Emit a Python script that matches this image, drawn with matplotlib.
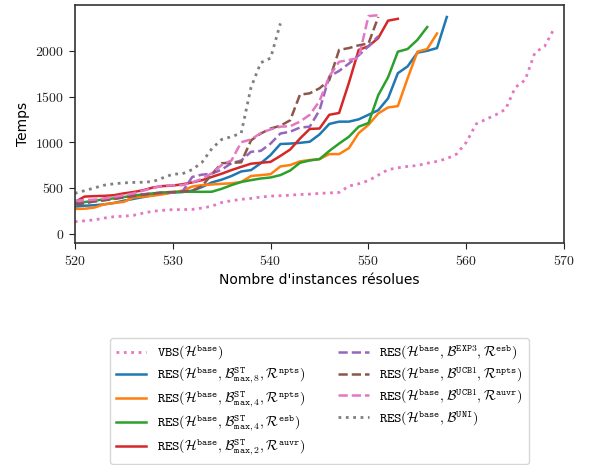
import matplotlib
matplotlib.use("Agg")
import matplotlib.pyplot as plt
from matplotlib.ticker import FuncFormatter

plt.rcParams['mathtext.fontset'] = 'cm'

# ---- data ----
vbs_x0 = 520
vbs = [130, 140, 150, 170, 185, 190, 200, 225, 245, 255, 262, 263, 265, 280, 300,
       340, 360, 375, 385, 400, 410, 415, 420, 428, 432, 440, 445, 450, 520, 545,
       580, 640, 700, 720, 735, 745, 770, 790, 820, 870, 1000, 1200, 1250, 1300,
       1360, 1600, 1680, 1980, 2050, 2250]
blue = [295, 305, 310, 320, 335, 360, 380, 400, 420, 440, 450, 455, 470, 510, 560,
        590, 630, 680, 695, 770, 860, 980, 985, 993, 1005, 1085, 1200, 1225, 1225,
        1250, 1300, 1350, 1480, 1755, 1830, 1980, 2000, 2030, 2370]
orange = [270, 272, 285, 320, 335, 347, 395, 405, 415, 430, 450, 470, 515, 530, 537,
          545, 550, 565, 630, 640, 650, 735, 750, 790, 805, 815, 870, 870, 935, 1100,
          1190, 1315, 1380, 1395, 1700, 1990, 2020, 2190]
green = [330, 345, 360, 375, 385, 400, 415, 430, 440, 450, 455, 457, 458, 457, 458,
         490, 530, 565, 585, 603, 614, 640, 690, 775, 800, 815, 905, 985, 1060, 1170,
         1210, 1515, 1710, 1990, 2020, 2120, 2260]
red = [345, 405, 410, 413, 420, 440, 455, 475, 505, 520, 525, 540, 560, 585, 620,
       655, 695, 730, 765, 775, 785, 850, 920, 1040, 1145, 1150, 1300, 1320, 1650,
       2010, 2050, 2140, 2330, 2350]
purple = [325, 340, 350, 365, 380, 400, 420, 430, 440, 445, 450, 460, 620, 645, 655,
          700, 770, 800, 895, 905, 985, 1095, 1115, 1160, 1170, 1350, 1720, 1780,
          1860, 1950, 2050, 2160]
brown = [320, 330, 355, 365, 380, 395, 410, 425, 440, 450, 455, 460, 470, 520, 650,
         770, 775, 780, 1020, 1095, 1150, 1180, 1240, 1520, 1535, 1590, 1680, 2010,
         2030, 2060, 2080, 2370]
pink = [360, 365, 372, 385, 400, 420, 440, 470, 500, 525, 528, 530, 560, 600, 660,
        750, 800, 1000, 1030, 1100, 1140, 1170, 1175, 1225, 1300, 1450, 1720, 1880,
        1900, 1920, 2380, 2390]
uni = [440, 470, 500, 530, 545, 555, 560, 562, 570, 610, 650, 655, 700, 780, 930,
       1030, 1060, 1100, 1600, 1870, 1920, 2300]

labels = [
    r'$\mathtt{VBS}(\mathcal{H}^{\mathtt{base}})$',
    r'$\mathtt{RES}(\mathcal{H}^{\mathtt{base}},\mathcal{B}^{\mathtt{ST}}_{\mathtt{max},8},\mathcal{R}^{\mathtt{npts}})$',
    r'$\mathtt{RES}(\mathcal{H}^{\mathtt{base}},\mathcal{B}^{\mathtt{ST}}_{\mathtt{max},4},\mathcal{R}^{\mathtt{npts}})$',
    r'$\mathtt{RES}(\mathcal{H}^{\mathtt{base}},\mathcal{B}^{\mathtt{ST}}_{\mathtt{max},4},\mathcal{R}^{\mathtt{esb}})$',
    r'$\mathtt{RES}(\mathcal{H}^{\mathtt{base}},\mathcal{B}^{\mathtt{ST}}_{\mathtt{max},2},\mathcal{R}^{\mathtt{auvr}})$',
    r'$\mathtt{RES}(\mathcal{H}^{\mathtt{base}},\mathcal{B}^{\mathtt{EXP3}},\mathcal{R}^{\mathtt{esb}})$',
    r'$\mathtt{RES}(\mathcal{H}^{\mathtt{base}},\mathcal{B}^{\mathtt{UCB1}},\mathcal{R}^{\mathtt{npts}})$',
    r'$\mathtt{RES}(\mathcal{H}^{\mathtt{base}},\mathcal{B}^{\mathtt{UCB1}},\mathcal{R}^{\mathtt{auvr}})$',
    r'$\mathtt{RES}(\mathcal{H}^{\mathtt{base}},\mathcal{B}^{\mathtt{UNI}})$',
]
series = [vbs, blue, orange, green, red, purple, brown, pink, uni]
colors = ['#e377c2', '#1f77b4', '#ff7f0e', '#2ca02c', '#d62728', '#9467bd',
          '#8c564b', '#e377c2', '#7f7f7f']
styles = [':', '-', '-', '-', '-', '--', '--', '--', ':']

fig = plt.figure(figsize=(5.89, 4.65), dpi=100)
ax = fig.add_axes([0.127, 0.477, 0.831, 0.512])

for ys, c, ls, lab in zip(series, colors, styles, labels):
    xs = list(range(vbs_x0, vbs_x0 + len(ys)))
    lw = 2.0 if ls == ':' else 1.8
    ax.plot(xs, ys, color=c, linestyle=ls, linewidth=lw, label=lab)

ax.set_xlim(520, 570)
ax.set_ylim(-105, 2500)
ax.set_xticks([520, 530, 540, 550, 560, 570])
ax.set_yticks([0, 500, 1000, 1500, 2000])
fmt = FuncFormatter(lambda v, p: r'$%d$' % v)
ax.xaxis.set_major_formatter(fmt)
ax.yaxis.set_major_formatter(fmt)
ax.tick_params(labelsize=10, colors='#222222', length=4)
for s in ax.spines.values():
    s.set_color('#333333')
    s.set_linewidth(1.2)
ax.set_xlabel("Nombre d'instances résolues", fontsize=10)
ax.set_ylabel("Temps", fontsize=10)

handles, labs = ax.get_legend_handles_labels()
fig.legend(handles, labs, loc='upper center', bbox_to_anchor=(0.5425, 0.288),
           ncol=2, fontsize=10, labelspacing=0.25, columnspacing=2.4,
           handlelength=2.2, handletextpad=0.75, borderpad=0.4,
           frameon=True, edgecolor='#cccccc', fancybox=True)

fig.savefig('out.png', dpi=100)
